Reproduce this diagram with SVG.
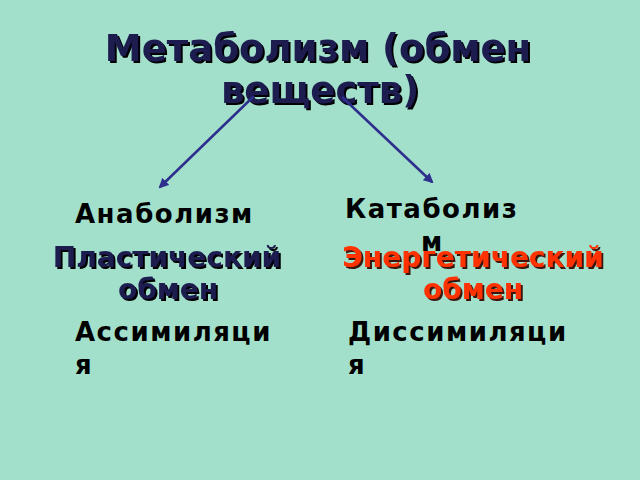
<svg xmlns="http://www.w3.org/2000/svg" width="640" height="480" viewBox="0 0 640 480">
<defs>
<style>
text{font-family:"DejaVu Sans","Liberation Sans",sans-serif;font-weight:bold}
.t{font-size:37px;fill:#1c1c50;text-anchor:middle;filter:url(#sh)}
.l{font-size:26px;fill:#000;letter-spacing:1.5px}
.b{font-size:28px;fill:#1c1c50;text-anchor:middle;filter:url(#sh)}
.r{font-size:28px;fill:#ff3300;text-anchor:middle;filter:url(#shr)}
.c{stroke:#2e2e8c;stroke-width:2.5;fill:none;marker-end:url(#ah)}
</style>
<filter id="sh" x="-5%" y="-20%" width="110%" height="140%">
<feDropShadow dx="2" dy="2" stdDeviation="0.3" flood-color="#000" flood-opacity="1"/>
</filter>
<filter id="shr" x="-5%" y="-20%" width="110%" height="140%">
<feDropShadow dx="2" dy="2" stdDeviation="0.3" flood-color="#3a1408" flood-opacity="1"/>
</filter>
<marker id="ah" viewBox="0 0 10 10" refX="8" refY="5" markerWidth="4" markerHeight="4" orient="auto" markerUnits="strokeWidth">
<path d="M0,0 L10,5 L0,10 z" fill="#2e2e8c"/>
</marker>
</defs>
<rect width="640" height="480" fill="#a2e0cb"/>
<g id="title">
<text class="t" x="318" y="61">Метаболизм (обмен</text>
<text class="t" x="320" y="103">веществ)</text>
</g>
<g id="connectors">
<line class="c" x1="254" y1="96" x2="160" y2="187"/>
<line class="c" x1="342" y1="97" x2="432" y2="182"/>
</g>
<g id="anabolism">
<text class="l" x="75" y="223">Анаболизм</text>
<text class="b" x="167" y="267">Пластический</text>
<text class="b" x="168" y="299">обмен</text>
<text class="l" x="75" y="341">Ассимиляци</text>
<text class="l" x="75" y="374">я</text>
</g>
<g id="catabolism">
<text class="l" x="345" y="218">Катаболиз</text>
<text class="l" x="421" y="251">м</text>
<text class="r" x="473" y="267">Энергетический</text>
<text class="r" x="473" y="299">обмен</text>
<text class="l" x="348" y="341">Диссимиляци</text>
<text class="l" x="348" y="374">я</text>
</g>
</svg>
